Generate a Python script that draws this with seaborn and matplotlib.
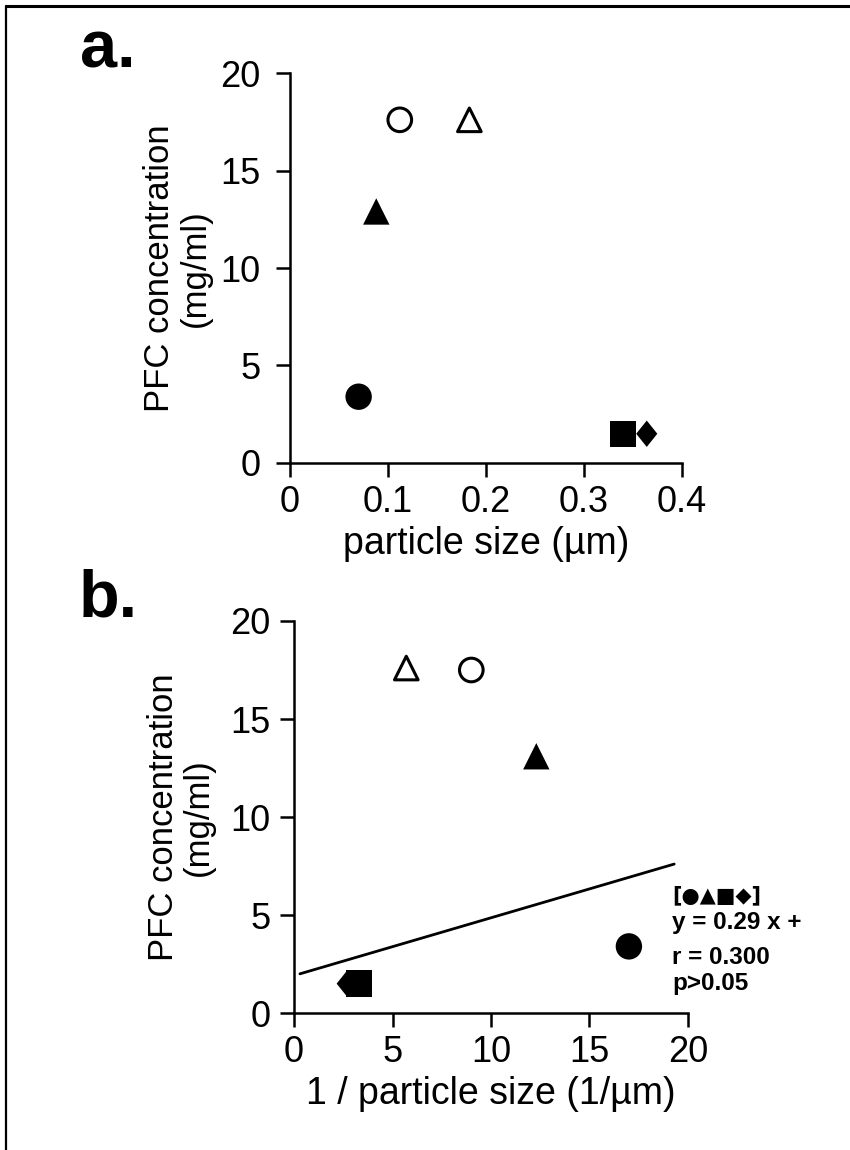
"""
PFC concentration vs particle size (panel a) and vs 1/particle size (panel b).
"""

import matplotlib
matplotlib.use("Agg")
import matplotlib.pyplot as plt
from matplotlib.lines import Line2D
from matplotlib.path import Path
import pandas as pd
import seaborn as sns

# ---- data ----
shapes = ["circle", "triangle", "open_circle", "open_triangle", "diamond", "square"]
filled = [True, True, False, False, True, True]

size_um = [0.070, 0.088, 0.112, 0.183, 0.364, 0.340]
conc_a = [3.4, 12.9, 17.6, 17.6, 1.5, 1.5]

inv_size = [17.0, 12.3, 9.0, 5.7, 2.7, 3.3]
conc_b = [3.4, 13.1, 17.5, 17.6, 1.5, 1.5]

fit_x = [0.3, 19.3]
fit_y = [2.0, 7.6]

fit_text = ["[●▲■◆]", "y = 0.29 x +", "r = 0.300", "p>0.05"]
fit_text_y = [6.0, 4.6, 2.85, 1.5]

xticks_a = [0, 0.1, 0.2, 0.3, 0.4]
xticklabels_a = ["0", "0.1", "0.2", "0.3", "0.4"]
xticks_b = [0, 5, 10, 15, 20]
yticks = [0, 5, 10, 15, 20]

# ---- style ----
sns.set_style("ticks")
plt.rcParams["font.family"] = ["Liberation Sans", "DejaVu Sans"]
plt.rcParams["text.color"] = "black"
plt.rcParams["axes.labelcolor"] = "black"
plt.rcParams["xtick.color"] = "black"
plt.rcParams["ytick.color"] = "black"
plt.rcParams["axes.edgecolor"] = "black"

diamond = Path([(0, 1), (0.8, 0), (0, -1), (-0.8, 0), (0, 1)])
marker_map = {
    "circle": "o", "open_circle": "o",
    "triangle": "^", "open_triangle": "^",
    "square": "s", "diamond": diamond,
}
MS = 19  # marker size in points

fig = plt.figure(figsize=(8.5, 11.5), dpi=100)
ax_a = fig.add_axes([0.3412, 0.5974, 0.4612, 0.3391])
ax_b = fig.add_axes([0.3459, 0.1191, 0.4635, 0.3409])


def draw_points(ax, xs, ys):
    df = pd.DataFrame({"x": xs, "y": ys, "shape": shapes, "filled": filled})
    solid = df[df["filled"]]
    hollow = df[~df["filled"]]
    sns.scatterplot(data=solid, x="x", y="y", style="shape", markers=marker_map,
                    color="black", edgecolor="black", linewidth=0, s=MS ** 2,
                    legend=False, ax=ax, clip_on=False, zorder=3)
    sns.scatterplot(data=hollow, x="x", y="y", style="shape", markers=marker_map,
                    facecolor="white", edgecolor="black", linewidth=2.2, s=(MS - 2) ** 2,
                    legend=False, ax=ax, clip_on=False, zorder=3)


def style_axes(ax, ypad):
    sns.despine(ax=ax)
    for side in ["left", "bottom"]:
        ax.spines[side].set_linewidth(1.8)
        ax.spines[side].set_color("black")
    ax.tick_params(axis="both", direction="out", length=10, width=1.8,
                   labelsize=26, colors="black")
    ax.tick_params(axis="y", pad=ypad)
    ax.tick_params(axis="x", pad=6)
    ax.set_yticks(yticks)
    ax.set_ylim(0, 20)
    ax.set_ylabel("PFC concentration\n(mg/ml)", fontsize=25, linespacing=1.1)
    ax.yaxis.set_label_coords(-0.2, 0.5)


# panel a
draw_points(ax_a, size_um, conc_a)
ax_a.set_xlim(0, 0.4)
ax_a.set_xticks(xticks_a)
ax_a.set_xticklabels(xticklabels_a)
style_axes(ax_a, ypad=11)
ax_a.set_xlabel("particle size (µm)", fontsize=27, labelpad=4)

# panel b
sns.lineplot(x=fit_x, y=fit_y, color="black", linewidth=2.0, ax=ax_b)
draw_points(ax_b, inv_size, conc_b)
ax_b.set_xlim(0, 20)
ax_b.set_xticks(xticks_b)
style_axes(ax_b, ypad=7)
ax_b.set_xlabel("1 / particle size (1/µm)", fontsize=27, labelpad=4)

for i, (txt, ty) in enumerate(zip(fit_text, fit_text_y)):
    fam = ["DejaVu Sans"] if i == 0 else ["Liberation Sans", "DejaVu Sans"]
    ax_b.text(19.2, ty, txt, fontsize=15 if i == 0 else 17.5, fontweight="bold",
              family=fam, ha="left", va="center", clip_on=False, color="black")

# panel letters
fig.text(0.094, 0.9417, "a.", fontsize=48, fontweight="bold", ha="left",
         va="baseline", color="black")
fig.text(0.092, 0.4635, "b.", fontsize=48, fontweight="bold", ha="left",
         va="baseline", color="black")

# outer frame (left and top edges)
fig.add_artist(Line2D([0.007, 0.007], [0.0, 0.995], color="black", linewidth=1.6))
fig.add_artist(Line2D([0.007, 1.0], [0.995, 0.995], color="black", linewidth=2.2))

fig.savefig("out.png", dpi=100)
